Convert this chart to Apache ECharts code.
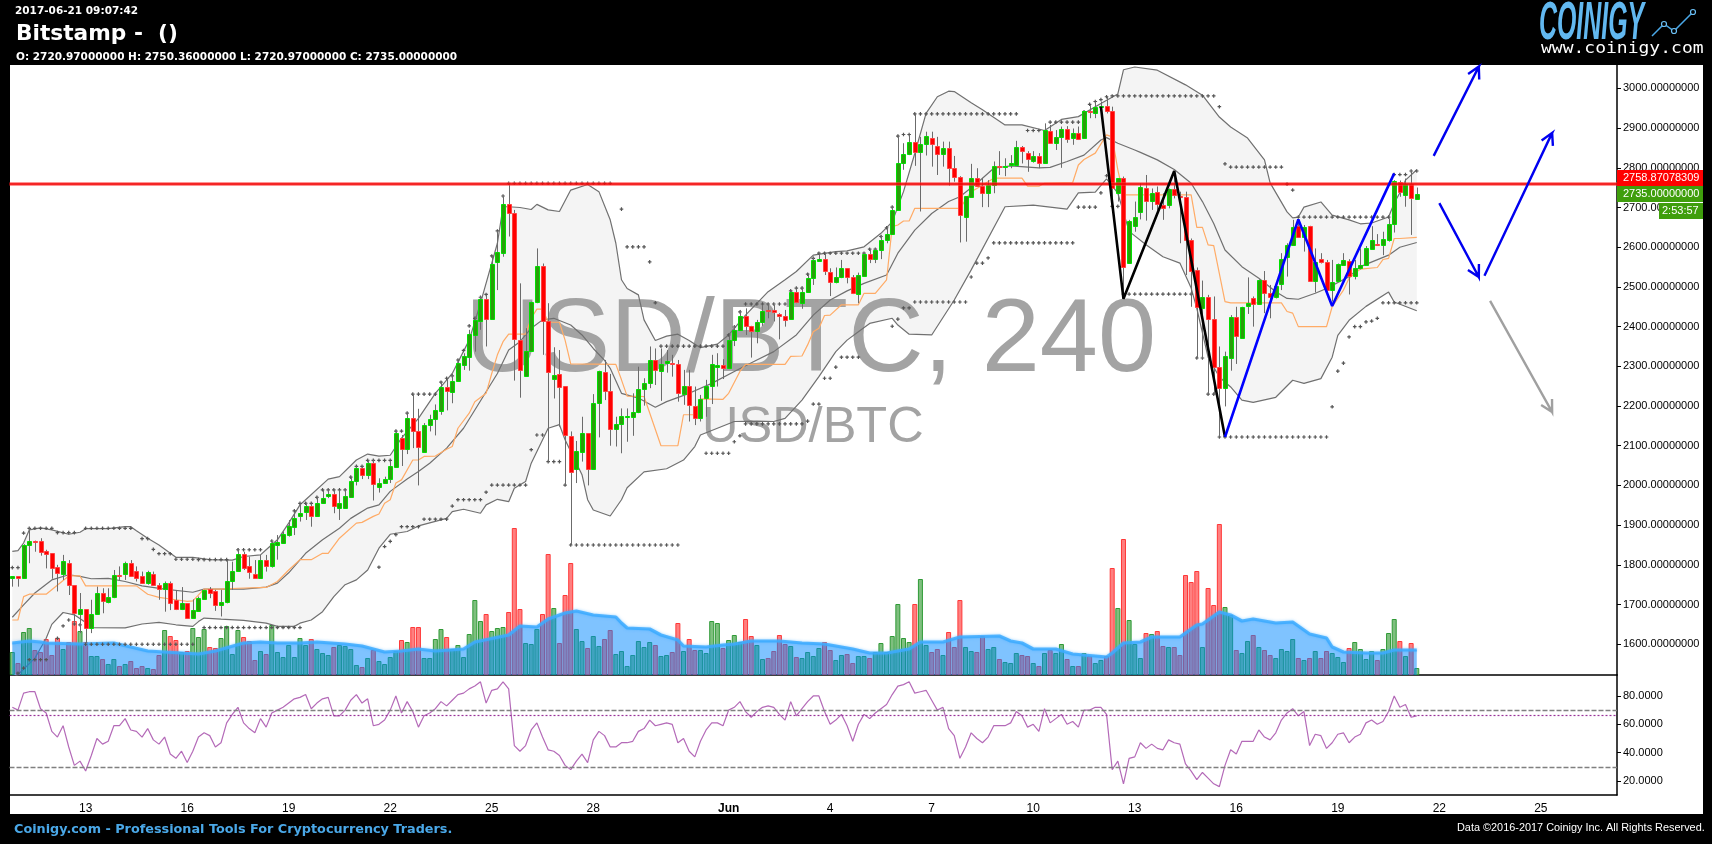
<!DOCTYPE html>
<html><head><meta charset="utf-8"><style>html,body{margin:0;padding:0;background:#000}#c{width:1712px;height:844px}</style>
<script src="https://cdn.jsdelivr.net/npm/echarts@6/dist/echarts.min.js"></script></head><body><div id="c"></div><script>
const priceOpen=[1766,1771,1766,1849,1861,1860,1834,1829,1794,1777,1804,1749,1677,1688,1640,1676,1728,1706,1719,1774,1778,1804,1784,1771,1755,1778,1748,1740,1753,1711,1688,1703,1665,1683,1713,1739,1733,1698,1706,1759,1784,1827,1797,1776,1766,1812,1796,1849,1856,1876,1896,1922,1932,1947,1922,1957,1974,1978,1944,1944,1972,2011,2044,2027,2056,1997,2005,2016,2047,2119,2091,2169,2137,2085,2153,2168,2187,2247,2236,2264,2304,2323,2380,2414,2469,2419,2564,2586,2709,2685,2366,2275,2338,2462,2552,2413,2269,2280,2250,2124,2042,2085,2131,2041,2207,2285,2237,2141,2154,2172,2173,2184,2242,2257,2315,2287,2309,2309,2305,2231,2250,2199,2169,2221,2250,2298,2303,2295,2366,2391,2426,2402,2388,2411,2443,2442,2432,2426,2420,2486,2459,2488,2522,2566,2570,2537,2512,2524,2547,2524,2482,2528,2582,2571,2592,2617,2633,2695,2811,2834,2864,2839,2859,2874,2856,2834,2849,2799,2776,2677,2727,2774,2753,2736,2756,2804,2802,2808,2808,2852,2837,2816,2829,2813,2894,2862,2878,2897,2876,2887,2875,2942,2939,2952,2955,2942,2736,2774,2560,2653,2688,2748,2716,2740,2706,2706,2746,2730,2726,2617,2542,2448,2474,2419,2298,2245,2322,2423,2371,2453,2471,2456,2517,2484,2474,2507,2575,2605,2653,2627,2653,2516,2570,2564,2491,2514,2556,2566,2527,2547,2554,2596,2609,2605,2618,2658,2765,2732,2758,2720.97];
const priceClose=[1771,1766,1849,1860,1859,1833,1827,1793,1779,1809,1749,1678,1688,1640,1676,1729,1708,1719,1774,1772,1804,1773,1768,1754,1781,1749,1739,1754,1703,1688,1703,1665,1685,1717,1736,1729,1698,1706,1759,1784,1827,1792,1781,1766,1812,1797,1854,1857,1878,1898,1917,1930,1948,1922,1955,1969,1979,1948,1956,1973,2011,2044,2027,2056,2003,2006,2016,2048,2131,2091,2169,2137,2098,2152,2167,2189,2247,2237,2262,2308,2326,2382,2417,2470,2419,2559,2588,2709,2685,2368,2290,2338,2461,2552,2413,2285,2277,2249,2126,2033,2086,2131,2041,2207,2288,2239,2141,2154,2176,2176,2184,2242,2257,2316,2290,2305,2313,2305,2232,2251,2202,2169,2217,2250,2305,2303,2295,2366,2391,2426,2402,2389,2411,2439,2440,2438,2428,2416,2487,2461,2486,2522,2568,2570,2539,2512,2524,2547,2524,2484,2530,2583,2571,2592,2618,2633,2695,2811,2834,2864,2839,2859,2879,2859,2834,2849,2799,2776,2681,2728,2774,2754,2736,2756,2804,2801,2804,2811,2852,2842,2821,2829,2813,2895,2862,2877,2899,2873,2887,2872,2942,2940,2952,2955,2942,2748,2774,2549,2665,2675,2751,2716,2737,2708,2700,2746,2731,2726,2618,2540,2449,2474,2419,2298,2245,2325,2423,2376,2449,2459,2456,2518,2484,2474,2502,2570,2605,2650,2627,2650,2514,2564,2562,2491,2513,2557,2567,2527,2547,2556,2597,2618,2605,2620,2658,2766,2738,2759,2723,2735];
const priceHigh=[1771,1771,1852,1892,1861,1867,1838,1829,1800,1825,1812,1749,1729,1688,1712,1745,1741,1741,1787,1796,1808,1812,1796,1783,1785,1783,1754,1758,1758,1735,1744,1703,1713,1720,1737,1744,1737,1737,1812,1808,1842,1833,1821,1812,1825,1825,1859,1875,1884,1913,1930,1955,1957,1955,1972,1989,1989,1989,1989,1989,2022,2048,2048,2064,2064,2018,2022,2060,2140,2127,2182,2230,2193,2157,2178,2204,2262,2270,2278,2312,2333,2392,2425,2476,2480,2580,2641,2727,2759,2694,2509,2396,2463,2597,2559,2459,2348,2341,2250,2136,2112,2173,2131,2230,2289,2316,2281,2173,2194,2194,2232,2299,2270,2350,2345,2345,2341,2329,2316,2291,2291,2249,2228,2266,2329,2333,2318,2383,2404,2442,2446,2402,2417,2455,2459,2455,2434,2442,2492,2496,2501,2534,2576,2585,2585,2547,2549,2568,2547,2530,2536,2585,2593,2597,2631,2652,2702,2883,2862,2883,2937,2878,2891,2891,2878,2866,2866,2830,2779,2728,2810,2799,2774,2769,2816,2842,2824,2832,2868,2855,2842,2842,2837,2912,2908,2895,2904,2905,2899,2904,2944,2958,2967,2967,2979,2954,2774,2778,2669,2715,2761,2782,2748,2753,2736,2748,2790,2740,2740,2622,2549,2516,2480,2476,2350,2337,2429,2450,2450,2524,2476,2519,2540,2505,2505,2585,2610,2669,2669,2656,2654,2597,2585,2568,2568,2559,2585,2570,2568,2597,2603,2653,2633,2639,2673,2769,2768,2773,2795,2750.36];
const priceLow=[1745,1745,1766,1804,1833,1823,1791,1765,1733,1762,1724,1653,1628,1603,1628,1674,1678,1703,1716,1762,1762,1771,1758,1752,1750,1747,1712,1682,1686,1686,1686,1664,1665,1682,1712,1716,1684,1670,1703,1737,1783,1787,1765,1765,1765,1783,1793,1813,1854,1871,1875,1909,1913,1896,1922,1955,1968,1930,1913,1943,1970,2000,2016,2016,1962,1982,2004,2006,2046,2049,2079,2094,2000,2084,2136,2126,2178,2189,2207,2262,2291,2289,2337,2392,2350,2417,2492,2576,2627,2264,2221,2274,2337,2459,2329,2060,2219,2148,2001,1850,2006,2060,2000,2039,2121,2215,2100,2098,2081,2110,2125,2182,2201,2245,2253,2213,2284,2274,2211,2203,2161,2152,2161,2173,2205,2249,2268,2293,2351,2389,2379,2322,2358,2402,2421,2413,2368,2400,2418,2459,2445,2486,2505,2564,2530,2477,2509,2522,2509,2482,2459,2526,2560,2560,2570,2610,2631,2692,2795,2832,2805,2690,2831,2803,2782,2803,2755,2765,2612,2614,2726,2753,2701,2701,2736,2782,2779,2799,2806,2811,2790,2813,2799,2811,2860,2845,2800,2863,2858,2870,2873,2925,2925,2950,2937,2715,2715,2478,2560,2639,2670,2667,2694,2694,2669,2698,2723,2610,2530,2450,2320,2320,2230,2230,2123,2199,2289,2306,2369,2432,2400,2455,2434,2421,2471,2492,2526,2604,2624,2589,2513,2486,2559,2488,2463,2513,2553,2481,2519,2544,2553,2595,2603,2580,2614,2637,2727,2702,2631,2720.97];
const volume=[23,12,43,47,25,23,36,20,37,26,33,54,44,33,19,19,16,11,16,9,11,14,7,9,7,6,20,45,39,35,23,24,47,38,46,28,27,37,49,21,45,38,34,15,24,21,50,23,18,30,18,37,30,36,26,22,20,28,30,29,26,10,8,17,25,14,11,18,24,35,33,48,48,17,17,36,46,38,26,30,18,41,75,54,61,44,47,48,63,147,66,32,31,46,61,121,67,32,80,112,46,34,27,39,29,36,45,21,24,9,20,34,28,33,30,19,20,23,52,24,36,25,25,22,54,52,27,35,40,33,56,39,30,16,17,24,40,31,29,18,17,23,19,27,33,25,15,20,21,12,19,19,17,23,32,23,39,71,37,33,71,96,30,23,26,20,43,28,75,28,24,23,39,26,28,16,13,12,22,20,19,12,9,22,25,22,31,16,9,9,22,19,12,15,19,107,67,136,55,31,17,42,41,44,29,28,28,20,100,93,104,28,87,70,151,68,60,25,22,34,40,28,25,20,17,26,24,36,17,15,17,24,17,24,22,18,13,27,33,26,16,24,15,26,42,56,34,19,32,7];
const rsi=[72,70,82,83,83,71,68,55,51,59,44,31,34,27,38,50,46,48,59,59,64,56,55,51,57,49,46,51,39,36,41,33,41,51,54,52,44,47,61,67,72,61,57,54,64,58,68,70,72,75,78,79,81,71,75,78,79,66,66,70,77,81,75,78,59,60,63,70,80,68,76,69,58,66,68,71,76,73,77,81,82,85,87,90,75,84,85,90,85,45,41,45,56,61,51,42,41,38,31,28,34,39,33,49,55,52,44,44,47,47,48,55,57,63,59,60,61,60,47,50,41,37,48,56,61,61,59,70,72,76,69,65,69,72,73,72,67,63,76,66,71,76,80,80,69,60,63,67,59,48,60,67,64,68,71,74,81,87,88,90,82,83,84,77,70,72,57,52,36,44,54,50,47,51,59,59,59,61,69,66,58,60,55,71,61,64,67,60,62,58,70,70,72,72,67,28,34,18,36,37,47,43,46,43,42,49,47,46,32,27,21,26,22,18,16,31,42,39,48,48,48,56,51,49,54,63,68,71,66,69,45,53,52,43,47,53,54,47,51,53,61,63,60,62,69,80,72,74,65,66];
const bbUpper=[[0,1834],[1,1836],[2,1855],[3,1888],[5,1893],[7,1888],[10,1877],[12,1882],[13,1891],[17,1891],[20,1896],[21,1896],[22,1886],[24,1867],[26,1850],[29,1819],[32,1819],[35,1813],[39,1812],[41,1821],[44,1825],[45,1838],[47,1863],[49,1905],[51,1951],[52,1964],[56,2016],[58,2022],[61,2064],[63,2079],[65,2074],[67,2076],[69,2119],[72,2169],[75,2232],[78,2282],[81,2366],[83,2459],[86,2610],[87,2702],[88,2702],[90,2700],[92,2695],[93,2708],[95,2694],[97,2690],[99,2744],[102,2758],[104,2740],[106,2669],[107,2610],[108,2518],[109,2496],[111,2480],[112,2417],[114,2365],[116,2376],[118,2381],[120,2365],[122,2347],[125,2356],[127,2379],[130,2429],[134,2488],[137,2518],[139,2539],[142,2580],[146,2589],[148,2591],[151,2601],[154,2635],[156,2664],[158,2740],[160,2836],[162,2937],[164,2979],[166,2993],[167,2992],[170,2964],[172,2946],[176,2908],[179,2908],[183,2894],[186,2922],[189,2929],[193,2962],[196,2986],[197,3047],[199,3054],[203,3046],[208,3009],[211,2983],[214,2928],[216,2903],[219,2875],[222,2820],[223,2762],[226,2689],[227,2674],[228,2676],[229,2701],[232,2714],[234,2681],[237,2669],[239,2659],[241,2661],[244,2676],[245,2711],[246,2737],[247,2769],[249,2795]];
const bbMid=[[0,1668],[2,1699],[4,1729],[7,1762],[10,1775],[12,1771],[14,1765],[17,1766],[20,1758],[23,1747],[27,1739],[32,1731],[34,1739],[38,1739],[41,1739],[45,1744],[47,1754],[49,1780],[52,1829],[55,1863],[58,1892],[60,1917],[63,1943],[65,1951],[67,1985],[70,2016],[72,2035],[74,2056],[77,2094],[80,2144],[82,2190],[84,2236],[86,2282],[88,2341],[90,2362],[92,2396],[94,2417],[96,2421],[99,2404],[101,2379],[103,2345],[105,2315],[106,2295],[108,2232],[111,2220],[114,2197],[116,2211],[120,2232],[124,2257],[128,2287],[132,2316],[135,2337],[139,2379],[142,2429],[145,2467],[148,2490],[151,2509],[155,2530],[157,2585],[160,2643],[163,2685],[166,2715],[168,2727],[171,2761],[174,2799],[177,2805],[182,2800],[184,2801],[187,2816],[190,2832],[193,2870],[194,2876],[196,2862],[199,2845],[200,2839],[203,2820],[206,2796],[209,2761],[211,2715],[213,2660],[215,2593],[218,2551],[221,2522],[224,2488],[226,2471],[228,2469],[231,2484],[233,2496],[237,2526],[239,2551],[244,2580],[246,2600],[249,2612]];
const bbLower=[[0,1515],[1,1523],[4,1565],[5,1590],[6,1615],[7,1650],[9,1680],[11,1674],[13,1655],[14,1642],[20,1641],[23,1651],[26,1655],[29,1649],[32,1645],[33,1657],[34,1666],[37,1663],[41,1660],[45,1653],[47,1645],[50,1645],[51,1653],[53,1661],[55,1682],[57,1720],[59,1750],[61,1762],[63,1787],[65,1842],[67,1877],[70,1884],[72,1898],[77,1917],[78,1934],[80,1940],[83,1930],[84,1951],[86,1965],[88,1959],[89,1993],[91,2010],[92,2056],[95,2144],[97,2153],[98,2115],[101,2027],[102,1964],[103,1938],[105,1928],[106,1923],[108,1964],[109,1994],[112,2034],[116,2042],[119,2064],[121,2098],[122,2127],[125,2144],[128,2161],[132,2162],[135,2161],[137,2169],[140,2215],[143,2274],[146,2337],[148,2366],[150,2387],[152,2408],[156,2421],[157,2404],[159,2381],[163,2379],[167,2467],[170,2543],[176,2702],[181,2706],[187,2696],[189,2737],[192,2739],[194,2772],[196,2736],[198,2640],[201,2606],[204,2576],[207,2560],[209,2497],[210,2446],[212,2323],[214,2273],[216,2248],[218,2215],[220,2209],[224,2222],[227,2265],[229,2257],[232,2269],[234,2323],[235,2378],[237,2416],[240,2451],[244,2487],[245,2462],[249,2440]];
const conversionLine=[[0,1661],[1,1661],[2,1720],[3,1726],[6,1726],[10,1772],[12,1772],[13,1747],[22,1747],[24,1726],[26,1718],[29,1712],[31,1708],[32,1709],[34,1739],[37,1739],[40,1741],[45,1743],[47,1758],[49,1787],[51,1813],[53,1813],[55,1829],[56,1829],[58,1867],[61,1905],[62,1907],[64,1922],[65,1928],[66,1955],[67,1964],[68,2006],[69,2014],[71,2064],[72,2064],[73,2073],[75,2074],[77,2091],[78,2098],[79,2144],[81,2182],[82,2211],[84,2232],[85,2282],[86,2329],[87,2362],[88,2381],[91,2381],[92,2421],[93,2444],[94,2444],[95,2411],[97,2411],[98,2366],[99,2306],[107,2305],[108,2266],[109,2225],[112,2224],[115,2100],[118,2100],[119,2178],[121,2178],[122,2218],[126,2217],[127,2232],[129,2287],[130,2305],[137,2305],[138,2325],[140,2326],[141,2354],[142,2387],[143,2396],[144,2428],[145,2429],[147,2455],[150,2455],[151,2484],[153,2484],[155,2518],[156,2652],[157,2656],[158,2666],[159,2666],[160,2698],[168,2698],[170,2740],[171,2748],[174,2774],[179,2774],[180,2754],[182,2754],[183,2761],[188,2763],[189,2807],[190,2821],[192,2837],[194,2883],[195,2878],[196,2795],[197,2732],[209,2732],[210,2650],[211,2650],[212,2606],[213,2604],[215,2463],[216,2460],[225,2460],[226,2438],[227,2434],[228,2400],[233,2400],[234,2450],[236,2492],[237,2522],[238,2534],[239,2545],[242,2549],[243,2569],[244,2572],[245,2622],[246,2622],[249,2625]];
const volumeMA=[[0,32],[3,34],[5,33],[6,32],[12,31],[18,32],[21,28],[24,24],[27,23],[30,22],[33,21],[36,24],[41,32],[44,33],[47,32],[51,32],[54,33],[59,31],[62,29],[66,23],[69,24],[72,26],[75,24],[80,26],[82,33],[88,40],[90,49],[93,48],[95,56],[98,62],[100,64],[103,60],[105,59],[107,58],[108,52],[109,47],[113,46],[115,40],[118,35],[119,29],[123,28],[126,30],[128,31],[131,34],[136,34],[140,32],[144,31],[149,26],[152,22],[155,22],[159,26],[161,33],[165,33],[168,38],[175,39],[177,34],[179,32],[181,26],[185,26],[188,21],[194,18],[195,22],[197,32],[200,33],[202,38],[207,38],[210,50],[211,51],[214,63],[216,60],[218,54],[220,56],[224,52],[227,53],[230,41],[233,37],[234,28],[236,23],[240,22],[243,22],[245,25],[249,25]];
// [first candle, last candle, price level]
const fractalRuns=[[0,1,1793],[2,2,1880],[3,7,1892],[8,11,1881],[13,21,1892],[23,24,1866],[25,25,1839],[26,28,1828],[29,32,1814],[33,38,1813],[40,44,1838],[46,46,1860],[48,48,1875],[49,49,1895],[50,50,1936],[51,53,1955],[54,54,1970],[55,59,1989],[60,60,2021],[61,62,2048],[63,67,2063],[68,69,2137],[70,70,2182],[71,75,2230],[76,76,2260],[77,77,2270],[78,78,2276],[79,79,2316],[80,80,2340],[81,81,2402],[82,82,2421],[83,83,2474],[84,84,2481],[85,85,2578],[86,86,2641],[87,87,2729],[88,106,2761],[108,108,2696],[109,112,2601],[113,113,2563],[114,114,2460],[115,126,2351],[127,127,2379],[128,128,2399],[129,129,2437],[130,137,2457],[138,138,2490],[139,140,2497],[141,141,2532],[142,142,2572],[143,151,2585],[152,153,2595],[154,154,2627],[155,155,2649],[156,156,2701],[157,157,2880],[158,159,2884],[160,178,2936],[180,182,2894],[184,189,2915],[190,190,2941],[191,191,2960],[192,192,2967],[193,193,2972],[194,194,2979],[195,213,2981],[214,214,2954],[215,215,2810],[216,225,2802],[226,226,2759],[227,227,2744],[228,244,2676],[245,247,2783],[248,249,2792]];
const supportRuns=[[1,1,1527],[2,2,1540],[3,6,1561],[8,8,1615],[9,9,1646],[10,10,1661],[11,11,1651],[12,12,1649],[13,32,1600],[34,51,1642],[65,65,1794],[66,66,1846],[67,67,1859],[68,68,1876],[69,72,1896],[73,77,1915],[78,78,1948],[79,83,1964],[84,84,1983],[85,91,2001],[92,92,2090],[93,94,2127],[95,97,2060],[98,98,2001],[99,118,1850],[123,127,2081],[128,128,2110],[129,129,2125],[130,140,2155],[141,141,2162],[142,143,2205],[144,145,2270],[146,146,2298],[147,150,2323],[156,156,2401],[157,157,2419],[158,159,2447],[160,169,2462],[170,170,2525],[171,172,2560],[173,173,2573],[174,188,2611],[189,192,2701],[193,193,2737],[194,194,2780],[195,196,2703],[197,209,2482],[210,211,2321],[212,213,2230],[214,233,2122],[234,234,2198],[235,235,2288],[236,236,2308],[237,237,2374],[238,239,2400],[240,240,2412],[241,241,2414],[242,242,2421],[243,249,2460]];
const blackZigzag=[[193,2954],[197,2470],[206,2792],[215,2122]];
const blueZigzag=[[215,2122],[228,2670],[234,2452],[245,2786]];
const arrowsBlue=[[252,2830,260,3055],[253,2711,260,2525],[261,2528,273,2888]];
const arrowsGray=[[262,2465,273,2185]];
const priceTicks=[1600,1700,1800,1900,2000,2100,2200,2300,2400,2500,2600,2700,2800,2900,3000];
const rsiTicks=[20,40,60,80];
const rsiLevels=[70,30];
const rsiCurrent=66.3;
const lastPrice=2735;
const resistance=2758.87078309;
const dayTickIndex=[13,31,49,67,85,103,127,145,163,181,199,217,235,253,271];
const dayTickLabels=['13','16','19','22','25','28','Jun','4','7','10','13','16','19','22','25'];
const axisSlots=285;

const categories=new Array(axisSlots).fill('');
dayTickIndex.forEach((d,k)=>{categories[d]=dayTickLabels[k]});
const showTick=(i)=>categories[i]!=='';
const candles=priceOpen.map((o,i)=>[i,o,priceClose[i],priceLow[i],priceHigh[i]]);
const volBars=volume.map((v,i)=>{const up=priceClose[i]>=priceOpen[i];return{value:v,itemStyle:{color:up?'rgba(0,128,0,0.5)':'rgba(255,0,0,0.5)',borderColor:up?'#2f9a36':'#ff3838',borderWidth:1}}});
const dots=[];
fractalRuns.concat(supportRuns).forEach(r=>{for(let i=r[0];i<=r[1];i++)dots.push([i,r[2]])});
const font='"Liberation Sans",Arial,sans-serif';
const txt=(x,y,s,f,c,extra)=>Object.assign({type:'text',x,y,z:100,silent:true,style:{text:s,font:f,fill:c,textVerticalAlign:'middle'}},extra||{});
const arrowRender=(color)=>function(p,api){
  const a=api.coord([api.value(0),api.value(1)]),b=api.coord([api.value(2),api.value(3)]);
  const ang=Math.atan2(b[1]-a[1],b[0]-a[0]),L=13,s=0.5;
  const tip=(d)=>[b[0]-L*Math.cos(ang+d),b[1]-L*Math.sin(ang+d)];
  return{type:'polyline',shape:{points:[a,b,tip(s),b,tip(-s)]},style:{stroke:color,fill:null,lineWidth:2.4}};
};
const chart=echarts.init(document.getElementById('c'),null,{renderer:'canvas'});
const G={left:9.5,width:1607.5};
chart.setOption({
 animation:false,backgroundColor:'#000',
 grid:[{left:G.left,width:G.width,top:65,height:610},{left:G.left,width:G.width,top:675,height:120}],
 xAxis:[
  {type:'category',gridIndex:0,data:categories,boundaryGap:true,axisLine:{lineStyle:{color:'#000',width:1.5}},axisTick:{show:false},axisLabel:{show:false},splitLine:{show:false}},
  {type:'category',gridIndex:1,data:categories,boundaryGap:true,axisLine:{lineStyle:{color:'#000',width:1.5}},
   axisTick:{alignWithLabel:true,interval:showTick,length:4,lineStyle:{color:'#000'}},
   axisLabel:{interval:showTick,color:'#000',fontFamily:font,fontSize:12,margin:8,hideOverlap:false,
    formatter:v=>v==='Jun'?'{b|Jun}':v,rich:{b:{fontWeight:'bold',fontFamily:font,fontSize:12,color:'#000'}}},splitLine:{show:false}}
 ],
 yAxis:[
  {type:'value',gridIndex:0,position:'right',min:1522.5,max:3059,scale:true,axisLine:{show:true,lineStyle:{color:'#000',width:1.5}},
   axisTick:{show:true,length:4,customValues:priceTicks,lineStyle:{color:'#000'}},
   axisLabel:{color:'#000',fontFamily:font,fontSize:11,margin:6,customValues:priceTicks,formatter:v=>v.toFixed(8)},splitLine:{show:false}},
  {type:'value',gridIndex:0,min:0,max:610,show:false},
  {type:'value',gridIndex:1,position:'right',min:10.1,max:94.8,axisLine:{show:true,lineStyle:{color:'#000',width:1.5}},
   axisTick:{show:true,length:4,customValues:rsiTicks,lineStyle:{color:'#000'}},
   axisLabel:{color:'#000',fontFamily:font,fontSize:11,margin:6,customValues:rsiTicks,formatter:v=>v.toFixed(4)},splitLine:{show:false}}
 ],
 series:[
  {type:'custom',name:'band',z:1,clip:true,silent:true,xAxisIndex:0,yAxisIndex:0,data:[[0]],
   renderItem:(p,api)=>{const pts=bbUpper.concat(bbLower.slice().reverse()).map(q=>api.coord(q));
    return{type:'polygon',shape:{points:pts},style:{fill:'#f4f4f4',stroke:null}}}},
  {type:'bar',name:'volume',z:2,silent:true,xAxisIndex:0,yAxisIndex:1,data:volBars,barWidth:5},
  {type:'line',name:'volMA',z:3,silent:true,xAxisIndex:0,yAxisIndex:1,data:volumeMA,showSymbol:false,
   lineStyle:{color:'rgba(60,170,255,0.85)',width:3.2,shadowBlur:3,shadowColor:'rgba(60,170,255,0.6)'},
   areaStyle:{color:'rgba(0,136,255,0.5)',opacity:1,origin:'start'}},
  {type:'line',name:'bbUpper',z:2,silent:true,xAxisIndex:0,yAxisIndex:0,data:bbUpper,showSymbol:false,lineStyle:{color:'#707070',width:1.2}},
  {type:'line',name:'bbMid',z:2,silent:true,xAxisIndex:0,yAxisIndex:0,data:bbMid,showSymbol:false,lineStyle:{color:'#707070',width:1.2}},
  {type:'line',name:'bbLower',z:2,silent:true,xAxisIndex:0,yAxisIndex:0,data:bbLower,showSymbol:false,lineStyle:{color:'#707070',width:1.2}},
  {type:'line',name:'conversion',z:2,silent:true,xAxisIndex:0,yAxisIndex:0,data:conversionLine,showSymbol:false,lineStyle:{color:'#ffab66',width:1.2}},
  {type:'scatter',name:'fractals',z:3,silent:true,xAxisIndex:0,yAxisIndex:0,data:dots,symbol:'path://M1 0H2V1H3V2H2V3H1V2H0V1H1Z',symbolSize:3.6,itemStyle:{color:'#555',opacity:1}},
  {type:'custom',name:'candles',z:4,clip:true,silent:true,xAxisIndex:0,yAxisIndex:0,data:candles,
   renderItem:(p,api)=>{
    const i=api.value(0),o=api.value(1),c=api.value(2),l=api.value(3),h=api.value(4);
    const yo=api.coord([i,o]),yc=api.coord([i,c]),yl=api.coord([i,l]),yh=api.coord([i,h]);
    const cx=Math.round(yo[0])+0.5,up=c>=o;
    const top=Math.round(Math.min(yo[1],yc[1]))+0.5,bot=Math.max(Math.round(Math.max(yo[1],yc[1]))+0.5,top+1);
    return{type:'group',children:[
     {type:'line',shape:{x1:cx,y1:yh[1],x2:cx,y2:yl[1]},style:{stroke:'#6b6b6b',lineWidth:1}},
     {type:'rect',shape:{x:cx-2,y:top,width:4,height:bot-top},style:{fill:up?'#2a9d0a':'#ff0000',stroke:up?'#00e000':'#ff4040',lineWidth:1}}
    ]}}},
  {type:'line',name:'blackZigzag',z:5,silent:true,xAxisIndex:0,yAxisIndex:0,data:blackZigzag,showSymbol:false,lineStyle:{color:'#000',width:2.6}},
  {type:'line',name:'blueZigzag',z:5,silent:true,xAxisIndex:0,yAxisIndex:0,data:blueZigzag,showSymbol:false,lineStyle:{color:'#0000ff',width:2.6}},
  {type:'custom',name:'arrowsBlue',z:5,silent:true,xAxisIndex:0,yAxisIndex:0,data:arrowsBlue,renderItem:arrowRender('#0000f0')},
  {type:'custom',name:'arrowsGray',z:5,silent:true,xAxisIndex:0,yAxisIndex:0,data:arrowsGray,renderItem:arrowRender('#a0a0a0')},
  {type:'line',name:'resistance',z:6,silent:true,xAxisIndex:0,yAxisIndex:0,data:[],
   markLine:{silent:true,symbol:'none',animation:false,label:{show:false},data:[
    {yAxis:resistance,lineStyle:{color:'rgba(255,60,60,0.55)',width:4,type:'solid'}},
    {yAxis:resistance,lineStyle:{color:'#f00000',width:1.5,type:'solid'}}]}},
  {type:'line',name:'rsi',z:3,silent:true,xAxisIndex:1,yAxisIndex:2,data:rsi,showSymbol:false,lineStyle:{color:'#b46ab8',width:1.2},
   markLine:{silent:true,symbol:'none',animation:false,label:{show:false},data:[
    {yAxis:rsiLevels[0],lineStyle:{color:'#808080',width:1.4,type:[5,2]}},
    {yAxis:rsiLevels[1],lineStyle:{color:'#808080',width:1.4,type:[5,2]}},
    {yAxis:rsiCurrent,lineStyle:{color:'#993399',width:1.2,type:[2,2]}}]}}
 ],
 graphic:{elements:[
  {type:'rect',z:-10,silent:true,shape:{x:10,y:65,width:1693,height:749},style:{fill:'#fff'}},
  {type:'text',z:1.5,silent:true,x:465,y:290,style:{text:'USD/BTC, 240',font:'104.5px '+font,fill:'#a3a3a3'}},
  {type:'text',z:1.5,silent:true,x:702,y:403,style:{text:'USD/BTC',font:'50.5px '+font,fill:'#a3a3a3'}},
  txt(15,11,'2017-06-21 09:07:42','bold 10.5px "DejaVu Sans"','#fff'),
  txt(16,34,'Bitstamp -  ()','bold 21.7px "DejaVu Sans"','#fff'),
  txt(16,57,'O: 2720.97000000 H: 2750.36000000 L: 2720.97000000 C: 2735.00000000','bold 10.5px "DejaVu Sans"','#fff'),
  txt(14,830,'Coinigy.com - Professional Tools For Cryptocurrency Traders.','bold 12.8px "DejaVu Sans"','#4aa8e8'),
  txt(1457,828,'Data ©2016-2017 Coinigy Inc. All Rights Reserved.','10.9px '+font,'#fff'),
  {type:'rect',z:100,silent:true,shape:{x:1617,y:170,width:86,height:16},style:{fill:'#ff0000'}},
  txt(1623,178,'2758.87078309','11px '+font,'#fff'),
  {type:'rect',z:100,silent:true,shape:{x:1617,y:186,width:86,height:16},style:{fill:'#3f9e0c'}},
  txt(1623,194,String(lastPrice.toFixed(8)),'11px '+font,'#fff'),
  {type:'rect',z:100,silent:true,shape:{x:1659,y:203,width:44,height:16},style:{fill:'#3f9e0c'}},
  txt(1662,211,'2:53:57','11px '+font,'#fff'),
  {type:'text',z:100,silent:true,x:1539,y:-2,scaleX:0.47,scaleY:1,style:{text:'COINIGY',font:'italic bold 53px '+font,fill:'#62b8f0'}},
  {type:'polyline',z:100,silent:true,shape:{points:[[1652,36],[1664,24],[1674,31],[1693,12]]},style:{stroke:'#4aa8e8',fill:null,lineWidth:1.5}},
  {type:'circle',z:100,silent:true,shape:{cx:1664,cy:24,r:2.5},style:{fill:'#000',stroke:'#6cc0f5',lineWidth:1.2}},
  {type:'circle',z:100,silent:true,shape:{cx:1674,cy:31,r:2.5},style:{fill:'#000',stroke:'#6cc0f5',lineWidth:1.2}},
  {type:'circle',z:100,silent:true,shape:{cx:1693,cy:12,r:2.5},style:{fill:'#000',stroke:'#6cc0f5',lineWidth:1.2}},
  txt(1541,49,'www.coinigy.com','15px "DejaVu Sans Mono"','#fff',{scaleX:1.2})
 ]}
});
</script></body></html>
